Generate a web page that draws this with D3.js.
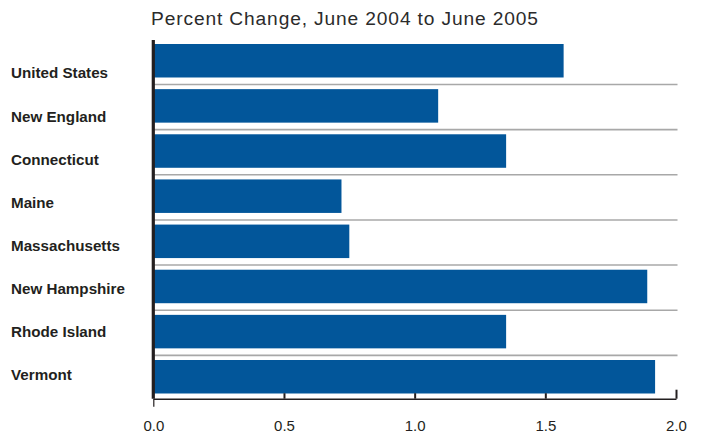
<!DOCTYPE html>
<html>
<head>
<meta charset="utf-8">
<script src="https://cdn.jsdelivr.net/npm/d3@7"></script>
<style>
  html, body { margin: 0; padding: 0; background: #fff; }
  svg { display: block; font-family: "Liberation Sans", Arial, Helvetica, sans-serif; }
</style>
</head>
<body>
<svg id="chart" width="711" height="435"></svg>
<script>
const titleText = "Percent Change, June 2004 to June 2005";
const categories = ["United States", "New England", "Connecticut", "Maine", "Massachusetts", "New Hampshire", "Rhode Island", "Vermont"];
const values = [1.57, 1.09, 1.35, 0.72, 0.75, 1.89, 1.35, 1.92];
const tickValues = [0, 0.5, 1.0, 1.5, 2.0];

const svg = d3.select("#chart");
const barColor = "#02569a";
const ink = "#231f20";

const x = d3.scaleLinear().domain([0, 2]).range([153.3, 676]);
const y = d3.scaleBand().domain(categories).range([44, 393.5]).paddingInner(0.258).paddingOuter(0);
const yLabel = d3.scalePoint().domain(categories).range([73, 375]);
const axisY = 398.7;

// title
svg.append("text")
  .attr("x", 151).attr("y", 25)
  .attr("font-size", 19.2)
  .attr("fill", "#2b2b2b")
  .attr("textLength", 387).attr("lengthAdjust", "spacing")
  .text(titleText);

// gridlines between bars
svg.append("g").selectAll("line")
  .data(categories.slice(0, -1))
  .join("line")
  .attr("x1", x(0)).attr("x2", x(2) + 1.5)
  .attr("y1", d => y(d) + y.bandwidth() + 7)
  .attr("y2", d => y(d) + y.bandwidth() + 7)
  .attr("stroke", "#a8a8a8").attr("stroke-width", 1.6);

// bars
svg.append("g").selectAll("rect")
  .data(categories)
  .join("rect")
  .attr("x", x(0))
  .attr("y", d => y(d))
  .attr("width", (d, i) => x(values[i]) - x(0))
  .attr("height", y.bandwidth())
  .attr("fill", barColor);

// category labels
svg.append("g").selectAll("text")
  .data(categories)
  .join("text")
  .attr("x", 11)
  .attr("y", d => yLabel(d))
  .attr("dy", "0.36em")
  .attr("font-size", 15.2)
  .attr("font-weight", "bold")
  .attr("fill", ink)
  .text(d => d);

// x axis
const xAxis = d3.axisBottom(x)
  .tickValues(tickValues)
  .tickFormat(d3.format(".1f"))
  .tickSize(-5.5)
  .tickSizeOuter(0)
  .tickPadding(22);

const gx = svg.append("g")
  .attr("transform", `translate(0,${axisY})`)
  .call(xAxis);
gx.select(".domain").attr("stroke", ink).attr("stroke-width", 1.6);
gx.selectAll(".tick line").attr("stroke", ink).attr("stroke-width", 2);
gx.selectAll(".tick text")
  .attr("font-size", 15)
  .attr("fill", ink)
  .attr("font-family", "\"Liberation Sans\", Arial, Helvetica, sans-serif");
gx.selectAll(".tick line").filter(d => d === 2).attr("y2", -9);
gx.selectAll(".tick line").filter(d => d === 0).attr("y2", 8).attr("stroke-width", 1.2);

// left vertical axis line
svg.append("line")
  .attr("x1", x(0)).attr("x2", x(0))
  .attr("y1", 40).attr("y2", axisY)
  .attr("stroke", ink).attr("stroke-width", 3.2);
</script>
</body>
</html>
